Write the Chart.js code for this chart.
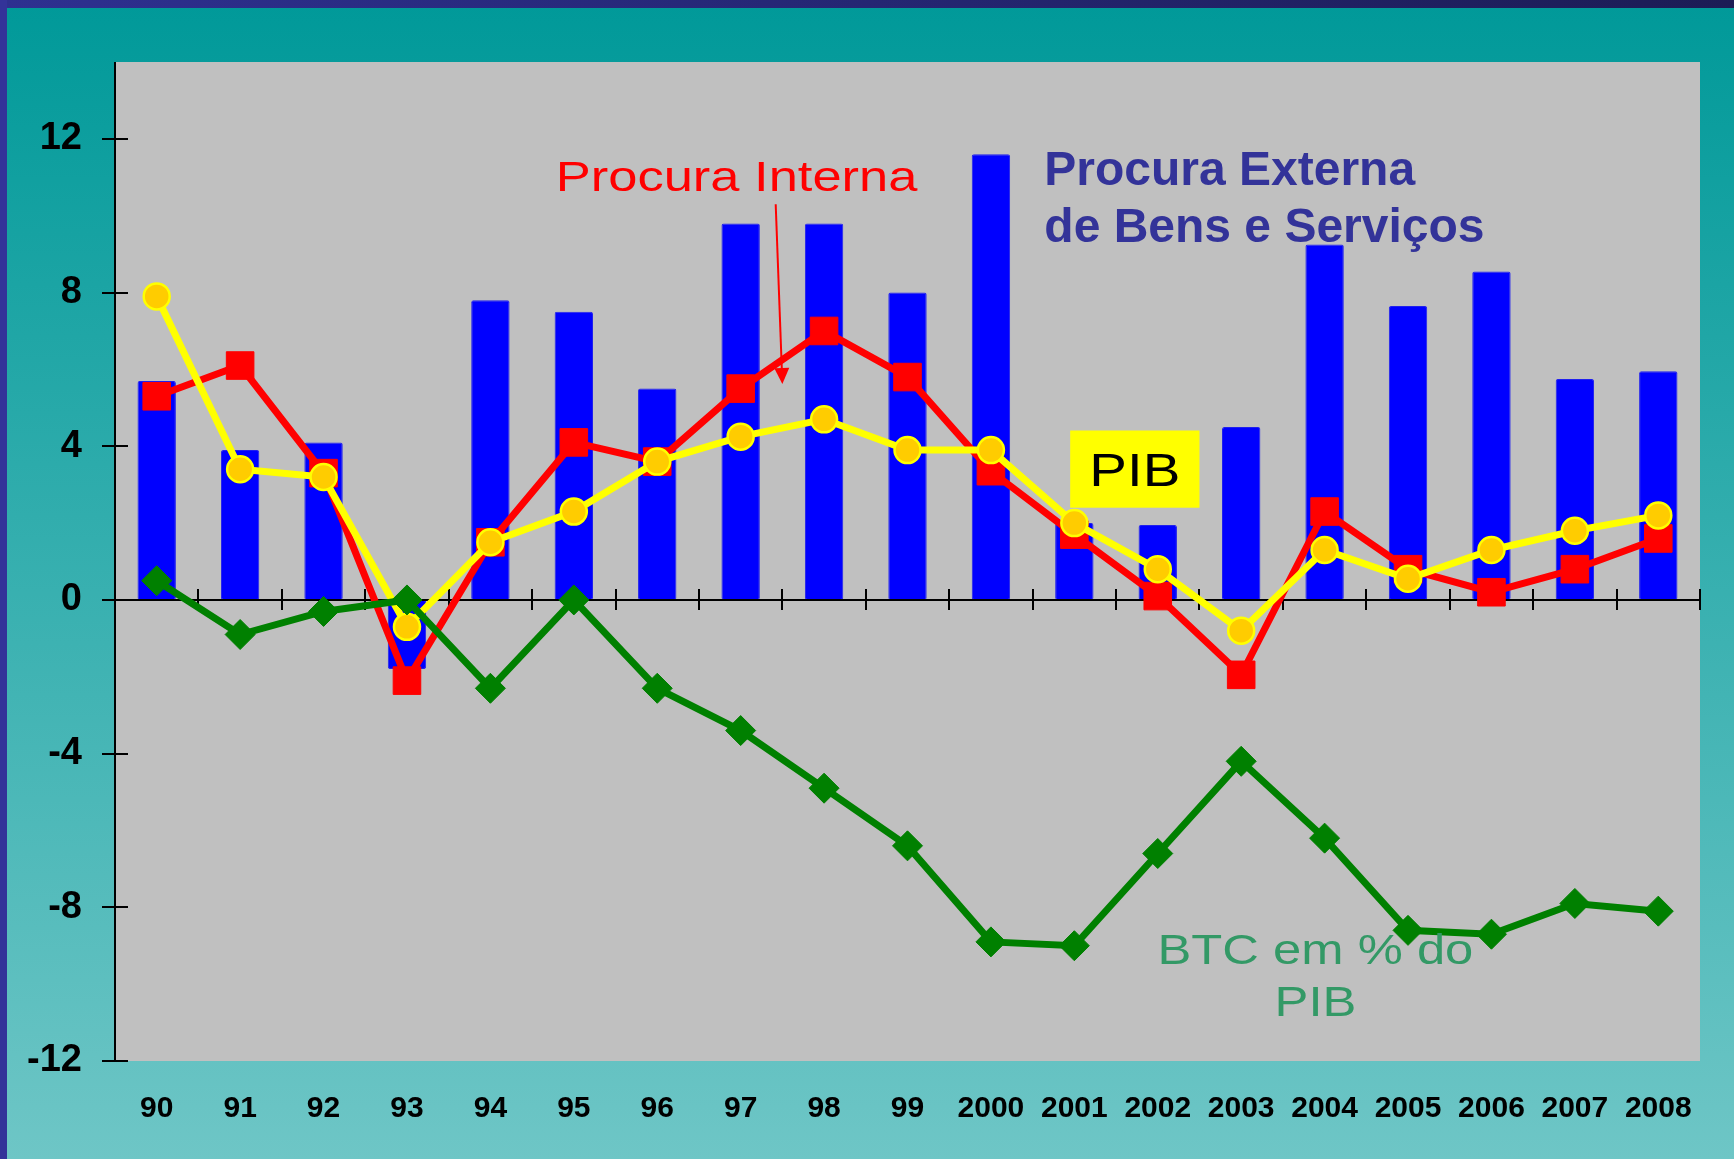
<!DOCTYPE html>
<html><head><meta charset="utf-8">
<script src="https://cdn.jsdelivr.net/npm/chart.js@4.4.1/dist/chart.umd.min.js"></script>
<style>
html,body{margin:0;padding:0;}
body{width:1734px;height:1159px;overflow:hidden;position:relative;background:linear-gradient(to bottom,#009999 0%,#6ec6c6 100%);}
.topbar{position:absolute;left:0;top:0;width:1734px;height:8px;background:linear-gradient(to right,#2e3090,#1c1c55);}
.leftbar{position:absolute;left:0;top:0;width:7px;height:1159px;background:#333399;}
canvas{position:absolute;left:0;top:0;}
</style></head>
<body>
<div class="topbar"></div><div class="leftbar"></div>
<canvas id="c" width="1734" height="1159"></canvas>
<script>
const categories = ['90','91','92','93','94','95','96','97','98','99','2000','2001','2002','2003','2004','2005','2006','2007','2008'];
const procuraExterna = [5.7, 3.9, 4.1, -1.8, 7.8, 7.5, 5.5, 9.8, 9.8, 8.0, 11.6, 2.0, 1.95, 4.5, 9.25, 7.65, 8.55, 5.75, 5.95];
const procuraInterna = [5.3, 6.1, 3.3, -2.1, 1.5, 4.1, 3.6, 5.5, 7.0, 5.8, 3.35, 1.7, 0.1, -1.95, 2.3, 0.8, 0.2, 0.8, 1.6];
const pib = [7.9, 3.4, 3.2, -0.7, 1.5, 2.3, 3.6, 4.25, 4.7, 3.9, 3.9, 2.0, 0.8, -0.8, 1.3, 0.55, 1.3, 1.8, 2.2];
const btc = [0.5, -0.9, -0.3, 0.0, -2.3, 0.0, -2.3, -3.4, -4.9, -6.4, -8.9, -9.0, -6.6, -4.2, -6.2, -8.6, -8.7, -7.9, -8.1];
const yTicks = [-12, -8, -4, 0, 4, 8, 12];
const yMin = -12, yMax = 14;

const FONT = "'Liberation Sans', Arial, sans-serif";

function wideText(ctx, text, x, y, sx, align) {
  ctx.save();
  ctx.translate(x, y);
  ctx.scale(sx, 1);
  ctx.textAlign = align;
  ctx.fillText(text, 0, 0);
  ctx.restore();
}

const decor = {
  id: 'decor',
  beforeDraw(chart) {
    const {ctx, chartArea: a} = chart;
    ctx.save();
    ctx.fillStyle = '#c0c0c0';
    ctx.fillRect(a.left, a.top, a.right - a.left, a.bottom - a.top);
    ctx.restore();
  },
  afterDatasetDraw(chart, args) {
    if (args.index !== 0) return;
    const {ctx} = chart;
    const x = chart.scales.x, y = chart.scales.y;
    const y0 = y.getPixelForValue(0);
    ctx.save();
    ctx.strokeStyle = '#000';
    ctx.lineWidth = 2;
    ctx.beginPath();
    ctx.moveTo(x.left, y0); ctx.lineTo(x.right, y0);
    for (let i = 1; i <= categories.length; i++) {
      const px = Math.round(x.getPixelForValue(i - 0.5));
      ctx.moveTo(px, y0 - 11); ctx.lineTo(px, y0 + 10);
    }
    ctx.moveTo(x.left, y.top); ctx.lineTo(x.left, y.bottom);
    yTicks.forEach(v => {
      const py = Math.round(y.getPixelForValue(v));
      ctx.moveTo(x.left - 13, py); ctx.lineTo(x.left + 13, py);
    });
    ctx.stroke();
    ctx.restore();
  },
  afterDraw(chart) {
    const {ctx} = chart;
    const x = chart.scales.x, y = chart.scales.y;
    const X = v => x.getPixelForValue(v), Y = v => y.getPixelForValue(v);
    ctx.save();
    ctx.textBaseline = 'alphabetic';
    // Procura Interna
    ctx.font = '43px ' + FONT;
    ctx.fillStyle = '#ff0000';
    wideText(ctx, 'Procura Interna', X(4.82) - 3, Y(10.63), 1.22, 'left');
    // arrow
    const x1 = X(7.42), y1 = Y(10.30), x2 = X(7.50), y2 = Y(5.62);
    const ang = Math.atan2(y2 - y1, x2 - x1);
    const L = 16, W = 7.5;
    const bx = x2 - L * Math.cos(ang), by = y2 - L * Math.sin(ang);
    ctx.strokeStyle = '#ff0000'; ctx.lineWidth = 2;
    ctx.beginPath(); ctx.moveTo(x1, y1); ctx.lineTo(bx, by); ctx.stroke();
    ctx.beginPath();
    ctx.moveTo(x2, y2);
    ctx.lineTo(bx + W * Math.sin(ang), by - W * Math.cos(ang));
    ctx.lineTo(bx - W * Math.sin(ang), by + W * Math.cos(ang));
    ctx.closePath(); ctx.fillStyle = '#ff0000'; ctx.fill();
    // Procura Externa
    ctx.font = 'bold 48px ' + FONT;
    ctx.fillStyle = '#333399';
    ctx.textAlign = 'left';
    ctx.fillText('Procura Externa', X(10.64), Y(10.79));
    ctx.fillText('de Bens e Serviços', X(10.64), Y(9.32));
    // PIB box
    const bl = X(10.95), br = X(12.50), bt = Y(4.41), bb = Y(2.40);
    ctx.fillStyle = '#ffff00';
    ctx.fillRect(bl, bt, br - bl, bb - bt);
    ctx.font = '47px ' + FONT;
    ctx.fillStyle = '#000000';
    wideText(ctx, 'PIB', (bl + br) / 2, Y(2.96), 1.2, 'center');
    // BTC label
    ctx.font = '43px ' + FONT;
    ctx.fillStyle = '#339966';
    wideText(ctx, 'BTC em % do', X(13.89), Y(-9.47), 1.18, 'center');
    wideText(ctx, 'PIB', X(13.89), Y(-10.82), 1.18, 'center');
    ctx.restore();
  }
};

new Chart(document.getElementById('c'), {
  data: {
    labels: categories,
    datasets: [
      {
        type: 'bar', label: 'Procura Externa de Bens e Serviços', data: procuraExterna,
        backgroundColor: '#0000ff', borderColor: '#2020ee', borderWidth: 1, borderRadius: 2, borderSkipped: false,
        barPercentage: 0.46, categoryPercentage: 1.0, order: 3
      },
      {
        type: 'line', label: 'Procura Interna', data: procuraInterna,
        borderColor: '#ff0000', borderWidth: 7, pointStyle: 'rect', pointRadius: 19.5,
        pointBackgroundColor: '#ff0000', pointBorderColor: '#ff0000', pointBorderWidth: 1,
        tension: 0, order: 2
      },
      {
        type: 'line', label: 'PIB', data: pib,
        borderColor: '#ffff00', borderWidth: 7, pointStyle: 'circle', pointRadius: 13,
        pointBackgroundColor: '#ffcc00', pointBorderColor: '#ffff00', pointBorderWidth: 2.5,
        tension: 0, order: 1
      },
      {
        type: 'line', label: 'BTC em % do PIB', data: btc,
        borderColor: '#008000', borderWidth: 7, pointStyle: 'rectRot', pointRadius: 15,
        pointBackgroundColor: '#008000', pointBorderColor: '#008000', pointBorderWidth: 1,
        tension: 0, order: 0
      }
    ]
  },
  options: {
    responsive: false,
    animation: false,
    devicePixelRatio: 1,
    layout: { padding: { left: 0, right: 34, top: 62, bottom: 0 } },
    plugins: { legend: { display: false }, tooltip: { enabled: false } },
    scales: {
      x: {
        type: 'category', offset: true,
        grid: { display: false, drawTicks: false },
        border: { display: false },
        ticks: { color: '#000', font: { family: FONT, size: 30, weight: 'bold' }, padding: 30, maxRotation: 0, autoSkip: false },
        afterFit(s) { s.height = 98; }
      },
      y: {
        type: 'linear', min: yMin, max: yMax,
        grid: { display: false, drawTicks: false },
        border: { display: false },
        afterBuildTicks(s) { s.ticks = yTicks.map(v => ({ value: v })); },
        ticks: { color: '#000', font: { family: FONT, size: 38, weight: 'bold' }, padding: 33 },
        afterFit(s) { s.width = 115; }
      }
    }
  },
  plugins: [decor]
});
</script>
</body></html>
